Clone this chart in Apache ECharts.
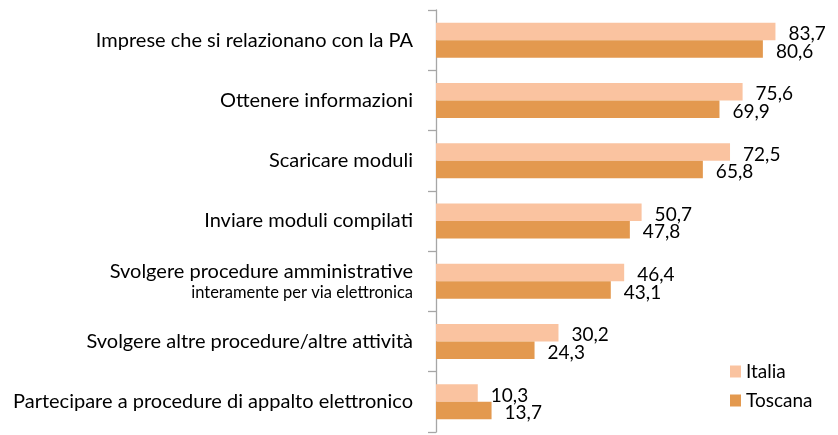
<!DOCTYPE html>
<html><head><meta charset="utf-8">
<script src="https://cdn.jsdelivr.net/npm/echarts@6/dist/echarts.min.js"></script>
<style>html,body{margin:0;padding:0;background:#fff}#c{width:838px;height:435px}</style>
</head><body><div id="c"></div>
<script>
const categories = [
  "Imprese che si relazionano con la PA",
  "Ottenere informazioni",
  "Scaricare moduli",
  "Inviare moduli compilati",
  "Svolgere procedure amministrative\ninteramente per via elettronica",
  "Svolgere altre procedure/altre attività",
  "Partecipare a procedure di appalto elettronico"
];
const italia = [83.7, 75.6, 72.5, 50.7, 46.4, 30.2, 10.3];
const toscana = [80.6, 69.9, 65.8, 47.8, 43.1, 24.3, 13.7];
const seriesNames = ["Italia", "Toscana"];

const FONT = "Lato";
const chart = echarts.init(document.getElementById('c'), null, {renderer: 'canvas'});
const fmt = p => String(p.value).replace('.', ',');
const labelCfg = {show: true, position: 'right', distance: 13, offset: [0, 2.5], formatter: fmt,
  color: '#000', fontFamily: FONT, fontSize: 19};
chart.setOption({
  animation: false,
  grid: {left: 436, top: 10, bottom: 3, width: 365},
  xAxis: {type: 'value', min: 0, max: 90, show: false},
  yAxis: {
    type: 'category', data: categories, inverse: true,
    axisLine: {show: true, lineStyle: {color: '#A6A6A6', width: 1.3}},
    axisTick: {show: true, inside: false, length: 8, lineStyle: {color: '#A6A6A6', width: 1.3}},
    axisLabel: {
      margin: 23, color: '#000', fontFamily: FONT, fontSize: 20, align: 'right',
      formatter: v => {
        const parts = v.split('\n');
        if (parts.length > 1) return '{a|' + parts[0] + '}\n{b|' + parts[1] + '}';
        return v;
      },
      rich: {
        a: {fontFamily: FONT, fontSize: 20, color: '#000', lineHeight: 22, align: 'right'},
        b: {fontFamily: FONT, fontSize: 16.5, color: '#000', lineHeight: 20, align: 'right'}
      }
    }
  },
  legend: {
    orient: 'vertical', left: 730, top: 362, padding: 0, itemWidth: 11, itemHeight: 12, itemGap: 10,
    icon: 'rect', textStyle: {fontFamily: FONT, fontSize: 19, color: '#000'},
    data: seriesNames
  },
  series: [
    {name: seriesNames[0], type: 'bar', data: italia, barWidth: 17.5, barGap: '0%',
     itemStyle: {color: '#FAC3A0'}, label: labelCfg},
    {name: seriesNames[1], type: 'bar', data: toscana, barWidth: 17.5, barGap: '0%',
     itemStyle: {color: '#E3994F'}, label: labelCfg}
  ]
});
</script></body></html>
